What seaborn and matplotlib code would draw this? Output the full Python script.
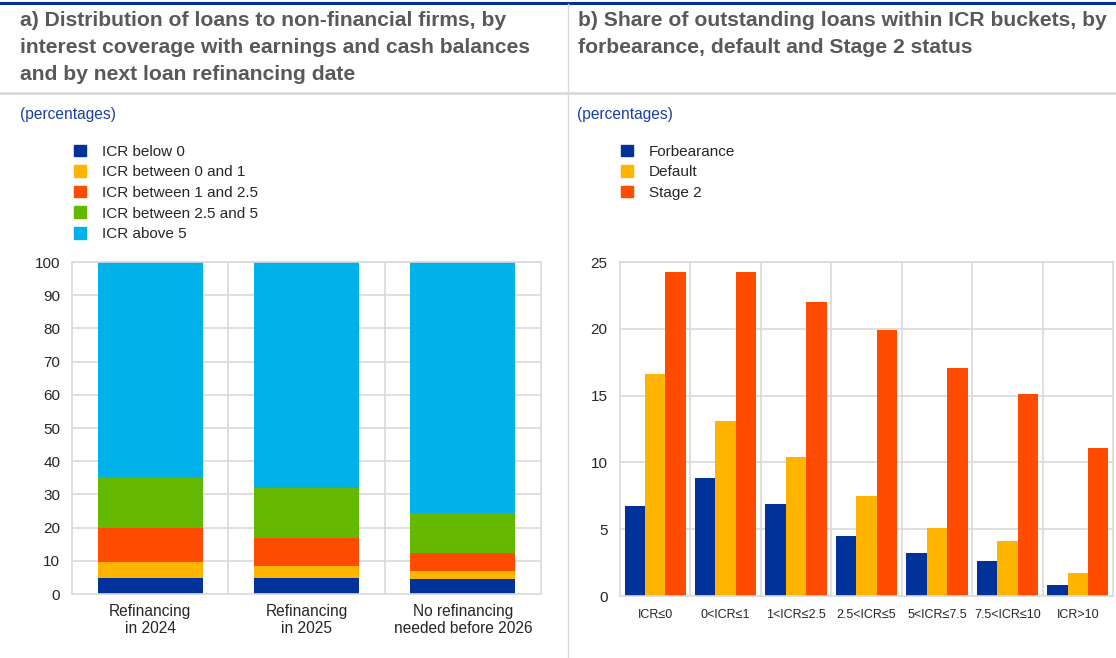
import matplotlib

matplotlib.use("Agg")
import matplotlib.pyplot as plt
import numpy as np
import pandas as pd
import seaborn as sns
from matplotlib.lines import Line2D
from matplotlib.patches import Rectangle

# データ: パネルa (積み上げ棒)
periods = ["Refinancing\nin 2024", "Refinancing\nin 2025", "No refinancing\nneeded before 2026"]
icr_groups = ["ICR below 0", "ICR between 0 and 1", "ICR between 1 and 2.5", "ICR between 2.5 and 5", "ICR above 5"]
icr_below_0 = [4.8, 4.8, 4.5]
icr_0_1 = [4.8, 3.7, 2.5]
icr_1_25 = [10.4, 8.5, 5.4]
icr_25_5 = [15.3, 15.0, 12.0]
icr_above_5 = [64.7, 68.0, 75.6]

# データ: パネルb (グループ棒)
buckets = ["ICR≤0", "0<ICR≤1", "1<ICR≤2.5", "2.5<ICR≤5", "5<ICR≤7.5", "7.5<ICR≤10", "ICR>10"]
statuses = ["Forbearance", "Default", "Stage 2"]
forbearance = [6.7, 8.8, 6.9, 4.5, 3.2, 2.6, 0.85]
default = [16.6, 13.1, 10.4, 7.5, 5.1, 4.1, 1.7]
stage2 = [24.25, 24.25, 22.0, 19.9, 17.1, 15.1, 11.1]

colors_a = ["#003299", "#FFB400", "#FF4B00", "#65B800", "#00B1EA"]
colors_b = ["#003299", "#FFB400", "#FF4B00"]
grid_col = "#D9D9D9"
title_col = "#595959"
text_col = "#262626"

W, H = 1116, 658
fig = plt.figure(figsize=(W / 100, H / 100), dpi=100)
plt.rcParams["font.family"] = ["Liberation Sans", "DejaVu Sans"]


def px_axes(x0, y0, x1, y1):
    """ピクセル座標で軸を作成"""
    return fig.add_axes([x0 / W, 1 - y1 / H, (x1 - x0) / W, (y1 - y0) / H])


def style_axes(ax, ncat, ymax, ystep):
    ax.set_xlim(-0.5, ncat - 0.5)
    ax.set_ylim(0, ymax)
    ax.set_yticks(np.arange(0, ymax + 0.1, ystep))
    ax.set_xticks(range(ncat))
    for b in np.arange(0.5, ncat - 0.5, 1):
        ax.axvline(b, color=grid_col, lw=1.2, zorder=0)
    for t in np.arange(ystep, ymax + 0.1, ystep):
        ax.axhline(t, color=grid_col, lw=1.2, zorder=0)
    for s in ax.spines.values():
        s.set_color(grid_col)
        s.set_linewidth(1.2)
    ax.tick_params(length=0, colors=text_col)
    ax.set_xlabel("")
    ax.set_ylabel("")


# パネル見出し・枠線
fig.add_artist(Line2D([0, 1], [1 - 3 / H, 1 - 3 / H], color="#003299", lw=2.2))
fig.add_artist(Line2D([0, 1], [1 - 93 / H, 1 - 93 / H], color=grid_col, lw=2))
fig.add_artist(Line2D([568 / W, 568 / W], [0, 1 - 4 / H], color=grid_col, lw=1))

fig.text(20 / W, 1 - 11 / H,
         "a) Distribution of loans to non-financial firms, by\ninterest coverage with earnings and cash balances\nand by next loan refinancing date",
         ha="left", va="top", fontsize=15.2, fontweight="bold", color=title_col, linespacing=1.55)
fig.text(578 / W, 1 - 11 / H,
         "b) Share of outstanding loans within ICR buckets, by\nforbearance, default and Stage 2 status",
         ha="left", va="top", fontsize=15.2, fontweight="bold", color=title_col, linespacing=1.55)
fig.text(20 / W, 1 - 115 / H, "(percentages)", ha="left", va="center", fontsize=11.2, color="#1A40A0")
fig.text(577 / W, 1 - 115 / H, "(percentages)", ha="left", va="center", fontsize=11.2, color="#1A40A0")

# パネルa: 積み上げ棒グラフ
df_a = pd.DataFrame(
    {"period": periods, icr_groups[0]: icr_below_0, icr_groups[1]: icr_0_1, icr_groups[2]: icr_1_25,
     icr_groups[3]: icr_25_5, icr_groups[4]: icr_above_5}
)
cum = df_a[icr_groups].cumsum(axis=1)
ax_a = px_axes(72, 262, 541, 594)
for grp, col in reversed(list(zip(icr_groups, colors_a))):
    sns.barplot(x=df_a["period"], y=cum[grp], color=col, width=0.67, linewidth=0, saturation=1, ax=ax_a, zorder=2)
style_axes(ax_a, len(periods), 100, 10)
ax_a.set_xticklabels(periods, fontsize=11.2, linespacing=1.2)
ax_a.tick_params(axis="y", labelsize=11, pad=8.5)
ax_a.tick_params(axis="x", pad=7)

handles_a = [Rectangle((0, 0), 1, 1, color=c) for c in colors_a]
fig.legend(handles_a, icr_groups, loc="upper left", bbox_to_anchor=(66 / W, 1 - 137 / H), frameon=False,
           fontsize=11, handlelength=0.8, handleheight=0.8, handletextpad=1.05, labelspacing=0.42,
           labelcolor=text_col, borderpad=0)

# パネルb: グループ棒グラフ
df_b = pd.DataFrame({"bucket": buckets, "Forbearance": forbearance, "Default": default, "Stage 2": stage2})
long_b = df_b.melt(id_vars="bucket", var_name="status", value_name="share")
ax_b = px_axes(620, 262, 1113, 596)
sns.barplot(data=long_b, x="bucket", y="share", hue="status", hue_order=statuses, palette=colors_b,
            width=0.87, linewidth=0, saturation=1, ax=ax_b, zorder=2, legend=False)
style_axes(ax_b, len(buckets), 25, 5)
ax_b.set_xticklabels(buckets, fontsize=9)
ax_b.tick_params(axis="y", labelsize=11, pad=9)
ax_b.tick_params(axis="x", pad=9)

handles_b = [Rectangle((0, 0), 1, 1, color=c) for c in colors_b]
fig.legend(handles_b, statuses, loc="upper left", bbox_to_anchor=(613 / W, 1 - 137 / H), frameon=False,
           fontsize=11, handlelength=0.8, handleheight=0.8, handletextpad=1.05, labelspacing=0.42,
           labelcolor=text_col, borderpad=0)

fig.savefig("out.png", dpi=100)
plt.close(fig)
